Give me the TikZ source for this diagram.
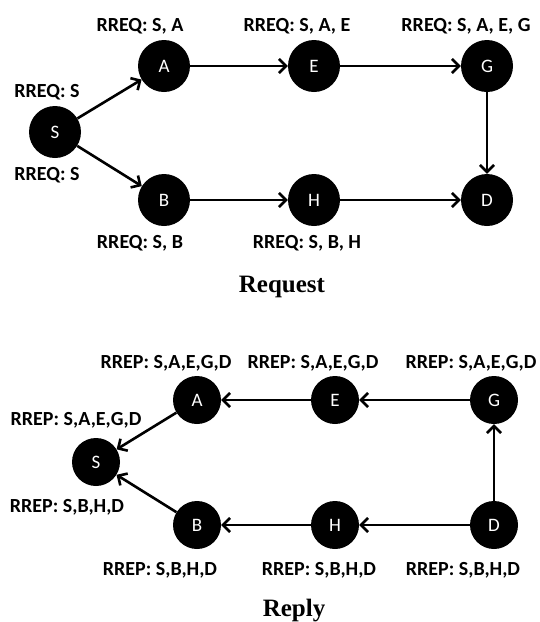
\documentclass[tikz,border=0pt]{standalone}
\usepackage{fontspec}
\setmainfont{Carlito}
\newfontfamily\titlefont{Liberation Serif}
\usetikzlibrary{arrows.meta}
\begin{document}
\begin{tikzpicture}[x=1pt,y=-1pt,
  nd/.style={circle, fill=black, inner sep=0pt, text=white, font=\fontsize{19}{19}\selectfont},
  big/.style={nd, minimum size=52pt},
  small/.style={nd, minimum size=48pt},
  lab/.style={anchor=base, inner sep=0pt, font=\bfseries\fontsize{20}{20}\selectfont},
  ttl/.style={anchor=base, inner sep=0pt, font=\titlefont\bfseries\fontsize{25}{25}\selectfont},
  arr/.style={line width=2.6pt, -{Straight Barb[length=7pt,width=14pt,line width=2.6pt]}}]
\useasboundingbox (0,0) rectangle (539,622);
% Request
\node[big] (S1) at (55,132) {S};
\node[big] (A1) at (164,66) {A};
\node[big] (E1) at (314,66) {E};
\node[big] (G1) at (487,66) {G};
\node[big] (B1) at (164,200) {B};
\node[big] (H1) at (314,200) {H};
\node[big] (D1) at (487,200) {D};
\draw[arr] (S1) -- (A1);
\draw[arr] (S1) -- (B1);
\draw[arr] (A1) -- (E1);
\draw[arr] (E1) -- (G1);
\draw[arr] (G1) -- (D1);
\draw[arr] (B1) -- (H1);
\draw[arr] (H1) -- (D1);
\node[lab] (l1) at (140,31) {RREQ: S, A};
\node[lab] (l2) at (297,31) {RREQ: S, A, E};
\node[lab] (l3) at (466,31) {RREQ: S, A, E, G};
\node[lab] (l4) at (47,97) {RREQ: S};
\node[lab] (l5) at (47,180) {RREQ: S};
\node[lab] (l6) at (140,248) {RREQ: S, B};
\node[lab] (l7) at (307,248) {RREQ: S, B, H};
\node[ttl] (t1) at (282,292) {Request};
% Reply
\node[small] (S2) at (96,462) {S};
\node[small] (A2) at (197,400) {A};
\node[small] (E2) at (335,400) {E};
\node[small] (G2) at (494,400) {G};
\node[small] (B2) at (197,525) {B};
\node[small] (H2) at (335,525) {H};
\node[small] (D2) at (494,525) {D};
\draw[arr] (A2) -- (S2);
\draw[arr] (E2) -- (A2);
\draw[arr] (G2) -- (E2);
\draw[arr] (D2) -- (G2);
\draw[arr] (D2) -- (H2);
\draw[arr] (H2) -- (B2);
\draw[arr] (B2) -- (S2);
\node[lab] (m1) at (166,368) {RREP: S,A,E,G,D};
\node[lab] (m2) at (313,368) {RREP: S,A,E,G,D};
\node[lab] (m3) at (471,368) {RREP: S,A,E,G,D};
\node[lab] (m4) at (76,425) {RREP: S,A,E,G,D};
\node[lab] (m5) at (67,512) {RREP: S,B,H,D};
\node[lab] (m6) at (160,575) {RREP: S,B,H,D};
\node[lab] (m7) at (319,575) {RREP: S,B,H,D};
\node[lab] (m8) at (463,575) {RREP: S,B,H,D};
\node[ttl] (t2) at (294,616) {Reply};
\end{tikzpicture}
\end{document}
